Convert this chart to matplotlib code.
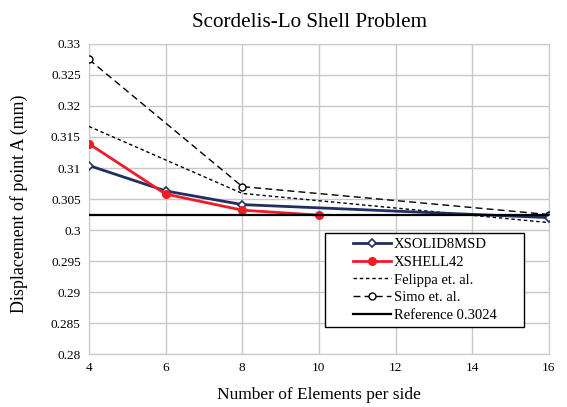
import matplotlib.pyplot as plt
from matplotlib.patches import Rectangle

plt.rcParams["font.family"] = ["Liberation Serif", "DejaVu Serif"]

# data
xsolid_n = [4, 6, 8, 16]
xsolid_w = [0.3104, 0.3063, 0.3041, 0.3020]

xshell_n = [4, 6, 8, 10]
xshell_w = [0.3139, 0.3058, 0.3032, 0.3024]

felippa_n = [4, 8, 16]
felippa_w = [0.3167, 0.3059, 0.3012]

simo_n = [4, 8, 16]
simo_w = [0.3275, 0.3070, 0.3025]

ref_n = [4, 16]
ref_value = 0.3024

x_ticks = [4, 6, 8, 10, 12, 14, 16]
y_ticks = [0.28, 0.285, 0.29, 0.295, 0.3, 0.305, 0.31, 0.315, 0.32, 0.325, 0.33]
y_ticklabels = ["0.28", "0.285", "0.29", "0.295", "0.3", "0.305", "0.31", "0.315", "0.32", "0.325", "0.33"]

fig = plt.figure(figsize=(5.67, 4.07), dpi=100)
ax = fig.add_axes([0.157, 0.130, 0.811, 0.762])

ax.plot(xsolid_n, xsolid_w, color="#1f3060", lw=2.0, marker="D", ms=4,
        mfc="white", mec="#1f3060", mew=1.2, label="XSOLID8MSD", zorder=4)
ax.plot(xshell_n, xshell_w, color="#f01c24", lw=2.0, marker="o", ms=5.5,
        mfc="#f01c24", mec="#f01c24", label="XSHELL42", zorder=5)
ax.plot(felippa_n, felippa_w, color="black", lw=1.0, ls=(0, (2.5, 2)),
        label="Felippa et. al.", zorder=3)
ax.plot(simo_n, simo_w, color="black", lw=1.0, ls=(0, (5, 3)), marker="o",
        ms=5, mfc="white", mec="black", mew=1.0, label="Simo et. al.", zorder=3)
ax.plot(ref_n, [ref_value] * len(ref_n), color="black", lw=1.6,
        label="Reference 0.3024", zorder=6)

ax.set_xlim(4, 16)
ax.set_ylim(0.28, 0.33)
ax.set_xticks(x_ticks)
ax.set_yticks(y_ticks)
ax.set_yticklabels(y_ticklabels)
ax.tick_params(length=0, labelsize=9.5, pad=6)
ax.grid(True, color="#c8c8c8", lw=1.0)
ax.set_axisbelow(True)
for s in ax.spines.values():
    s.set_color("#c8c8c8")

ax.set_title("Scordelis-Lo Shell Problem", fontsize=15.2, x=0.48, pad=12)
ax.set_xlabel("Number of Elements per side", fontsize=12.5, labelpad=9)
ax.set_ylabel("Displacement of point A (mm)", fontsize=12.9)
ax.yaxis.set_label_coords(-0.133, 0.484)

# legend box drawn separately so it can have the wide side margins of the original
box = Rectangle((0.513, 0.087), 0.433, 0.303, transform=ax.transAxes,
                facecolor="white", edgecolor="black", lw=1.0, zorder=9)
ax.add_patch(box)
leg = ax.legend(loc="center", bbox_to_anchor=(0.730, 0.239), fontsize=10.5,
                frameon=False, handlelength=2.6, borderpad=0.2,
                labelspacing=0.3, handletextpad=0.2)
leg.set_zorder(10)

fig.savefig("out.png", dpi=100)
